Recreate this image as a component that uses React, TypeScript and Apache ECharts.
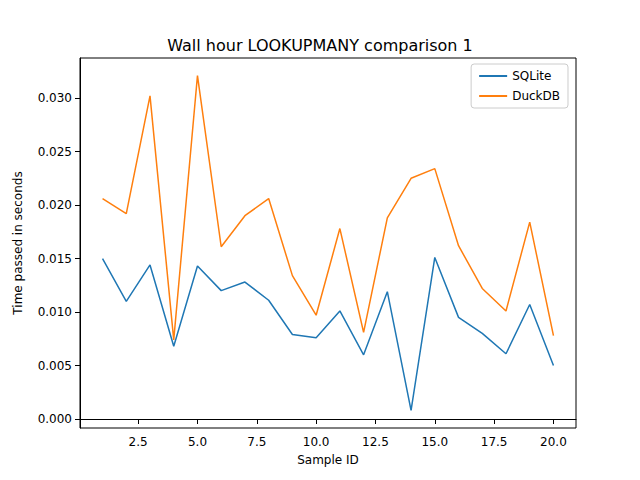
import { useEffect, useRef } from "react";
import * as echarts from "echarts";

const sampleIds = [1, 2, 3, 4, 5, 6, 7, 8, 9, 10, 11, 12, 13, 14, 15, 16, 17, 18, 19, 20];
const sqlite = [0.0150, 0.0110, 0.0144, 0.0068, 0.0143, 0.0120, 0.0128, 0.0111, 0.0079, 0.0076,
  0.0101, 0.0060, 0.0119, 0.0008, 0.0151, 0.0095, 0.0080, 0.0061, 0.0107, 0.0050];
const duckdb = [0.0206, 0.0192, 0.0302, 0.0074, 0.0321, 0.0161, 0.0190, 0.0206, 0.0134, 0.0097,
  0.0178, 0.0081, 0.0188, 0.0225, 0.0234, 0.0162, 0.0122, 0.0101, 0.0184, 0.0078];
const xTicks = [2.5, 5, 7.5, 10, 12.5, 15, 17.5, 20];
const yTicks = [0, 0.005, 0.01, 0.015, 0.02, 0.025, 0.03];

export default function App() {
  const ref = useRef<HTMLDivElement | null>(null);

  useEffect(() => {
    if (!ref.current) return;
    const chart = echarts.init(ref.current, null, { renderer: "svg" });
    const font = "DejaVu Sans";
    chart.setOption({
      animation: false,
      textStyle: { fontFamily: font },
      title: {
        text: "Wall hour LOOKUPMANY comparison 1",
        left: "center",
        top: 32,
        textStyle: { fontSize: 16, fontWeight: "normal", color: "#000", fontFamily: font },
      },
      grid: { left: 80, right: 64, top: 58, bottom: 52, show: true, borderColor: "#000", borderWidth: 1 },
      legend: {
        orient: "vertical",
        right: 72,
        top: 64,
        itemWidth: 28,
        itemHeight: 2,
        itemGap: 8,
        padding: [6, 8, 6, 8],
        borderColor: "#ccc",
        borderWidth: 1,
        borderRadius: 3,
        textStyle: { fontSize: 12, color: "#000", fontFamily: font },
        data: [
          { name: "SQLite", icon: "rect" },
          { name: "DuckDB", icon: "rect" },
        ],
      },
      xAxis: {
        type: "value",
        min: 0.05,
        max: 20.95,
        name: "Sample ID",
        nameLocation: "middle",
        nameGap: 26,
        nameTextStyle: { fontSize: 12, color: "#000" },
        axisLine: { show: true, lineStyle: { color: "#000" } },
        axisTick: { show: true, length: 5, lineStyle: { color: "#000" }, customValues: xTicks },
        axisLabel: { color: "#000", fontSize: 12, customValues: xTicks, formatter: (v: number) => v.toFixed(1) },
        splitLine: { show: false },
      },
      yAxis: {
        type: "value",
        min: -0.00084,
        max: 0.03374,
        name: "Time passed in seconds",
        nameLocation: "middle",
        nameGap: 56,
        nameTextStyle: { fontSize: 12, color: "#000" },
        axisLine: { show: true, lineStyle: { color: "#000" } },
        axisTick: { show: true, length: 5, lineStyle: { color: "#000" }, customValues: yTicks },
        axisLabel: { color: "#000", fontSize: 12, customValues: yTicks, formatter: (v: number) => v.toFixed(3) },
        splitLine: { show: false },
      },
      series: [
        {
          name: "SQLite",
          type: "line",
          showSymbol: false,
          color: "#1f77b4",
          lineStyle: { width: 1.5 },
          data: sampleIds.map((x, i) => [x, sqlite[i]]),
        },
        {
          name: "DuckDB",
          type: "line",
          showSymbol: false,
          color: "#ff7f0e",
          lineStyle: { width: 1.5 },
          data: sampleIds.map((x, i) => [x, duckdb[i]]),
        },
      ],
    });
    return () => chart.dispose();
  }, []);

  return <div ref={ref} style={{ width: 640, height: 480, margin: -8 }} />;
}
